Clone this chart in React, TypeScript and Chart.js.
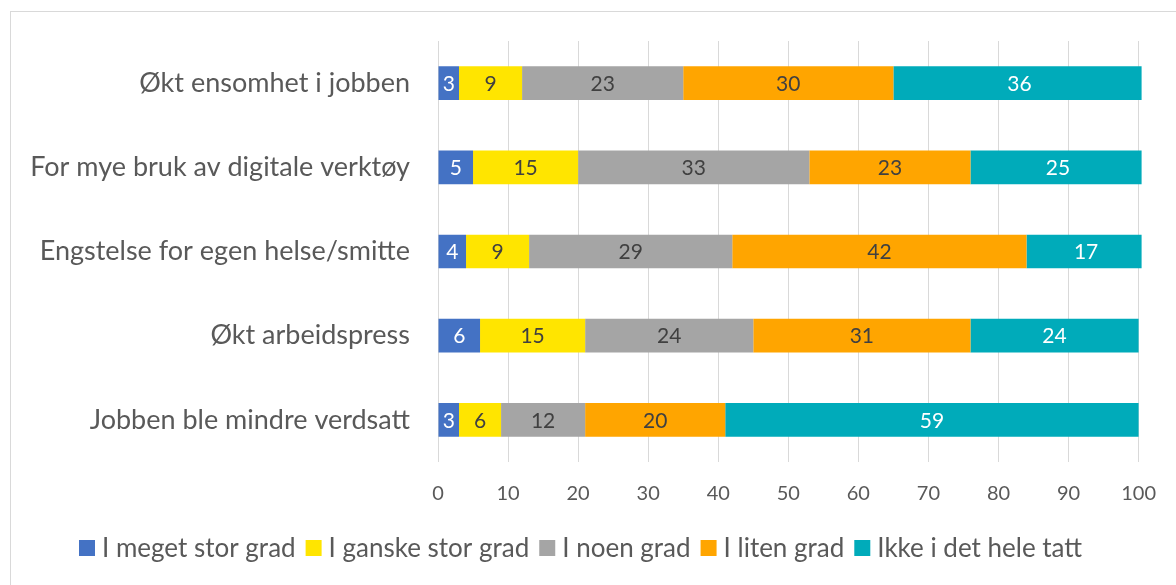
import React, { useEffect, useRef } from "react";
import { Chart, registerables } from "chart.js";

Chart.register(...registerables);

const categories = [
  "Økt ensomhet i jobben",
  "For mye bruk av digitale verktøy",
  "Engstelse for egen helse/smitte",
  "Økt arbeidspress",
  "Jobben ble mindre verdsatt",
];

const seriesNames = [
  "I meget stor grad",
  "I ganske stor grad",
  "I noen grad",
  "I liten grad",
  "Ikke i det hele tatt",
];

const meget = [3, 5, 4, 6, 3];
const ganske = [9, 15, 9, 15, 6];
const noen = [23, 33, 29, 24, 12];
const liten = [30, 23, 42, 31, 20];
const ikke = [36, 25, 17, 24, 59];

const xTicks = [0, 10, 20, 30, 40, 50, 60, 70, 80, 90, 100];

const colors = ["#4472C4", "#FFE500", "#A5A5A5", "#FFA500", "#00ABBA"];
const labelColors = ["#FFFFFF", "#404040", "#404040", "#404040", "#FFFFFF"];

const FONT = "Lato";

const borderPlugin = {
  id: "outerBorder",
  beforeDraw(chart: any) {
    const ctx = chart.ctx;
    ctx.save();
    ctx.strokeStyle = "#D9D9D9";
    ctx.lineWidth = 1;
    ctx.strokeRect(10.5, 11.5, chart.width + 20, chart.height + 20);
    ctx.restore();
  },
};

const dataLabelPlugin = {
  id: "barLabels",
  afterDatasetsDraw(chart: any) {
    const ctx = chart.ctx;
    ctx.save();
    ctx.font = `21px ${FONT}`;
    ctx.textAlign = "center";
    ctx.textBaseline = "middle";
    chart.data.datasets.forEach((ds: any, di: number) => {
      const meta = chart.getDatasetMeta(di);
      meta.data.forEach((bar: any, i: number) => {
        const v = ds.data[i];
        const cx = (bar.x + bar.base) / 2;
        ctx.fillStyle = labelColors[di];
        ctx.fillText(String(Math.round(v)), cx, bar.y + 1);
      });
    });
    ctx.restore();
  },
};

// Legend drawn in Excel style (box, small gap, text, larger gap)
const legendPlugin = {
  id: "excelLegend",
  afterDraw(chart: any) {
    const ctx = chart.ctx;
    ctx.save();
    ctx.font = `26px ${FONT}`;
    ctx.textBaseline = "middle";
    ctx.textAlign = "left";
    const cy = 548;
    let x = 79;
    chart.data.datasets.forEach((ds: any) => {
      ctx.fillStyle = ds.backgroundColor;
      ctx.fillRect(x, cy - 8, 16, 16);
      x += 16 + 7;
      ctx.fillStyle = "#595959";
      ctx.fillText(ds.label, x, cy + 1);
      x += ctx.measureText(ds.label).width + 10;
    });
    ctx.restore();
  },
};

export default function App() {
  const ref = useRef<HTMLCanvasElement>(null);

  useEffect(() => {
    document.body.style.margin = "0";
    const seriesValues = [meget, ganske, noen, liten, ikke];
    const chart = new Chart(ref.current as HTMLCanvasElement, {
      type: "bar",
      data: {
        labels: categories,
        datasets: seriesNames.map((name, i) => ({
          label: name,
          data: seriesValues[i],
          backgroundColor: colors[i],
          borderWidth: 0,
          barPercentage: 0.4,
          categoryPercentage: 1,
          clip: { left: false, top: false, right: 3, bottom: false } as any,
        })),
      },
      options: {
        indexAxis: "y",
        responsive: false,
        animation: false,
        layout: { padding: { left: 0, right: 33, top: 41, bottom: 0 } },
        scales: {
          x: {
            stacked: true,
            min: 0,
            max: 100,
            afterBuildTicks(scale: any) {
              scale.ticks = xTicks.map((v) => ({ value: v }));
            },
            afterFit(scale: any) {
              scale.height = 123;
            },
            grid: { color: "#D9D9D9", drawTicks: false, lineWidth: 1 },
            border: { display: false },
            ticks: {
              padding: 20,
              color: "#595959",
              font: { family: FONT, size: 20 },
            },
          },
          y: {
            stacked: true,
            afterFit(scale: any) {
              scale.width = 438;
              scale.paddingTop = 0;
              scale.paddingBottom = 0;
            },
            grid: { display: false, drawTicks: false },
            border: { display: false },
            ticks: {
              padding: 28,
              color: "#595959",
              font: { family: FONT, size: 27 },
            },
          },
        },
        plugins: {
          legend: { display: false },
          tooltip: { enabled: false },
        },
      },
      plugins: [borderPlugin, dataLabelPlugin, legendPlugin],
    });
    return () => chart.destroy();
  }, []);

  return <canvas ref={ref} width={1176} height={585} style={{ display: "block" }} />;
}
